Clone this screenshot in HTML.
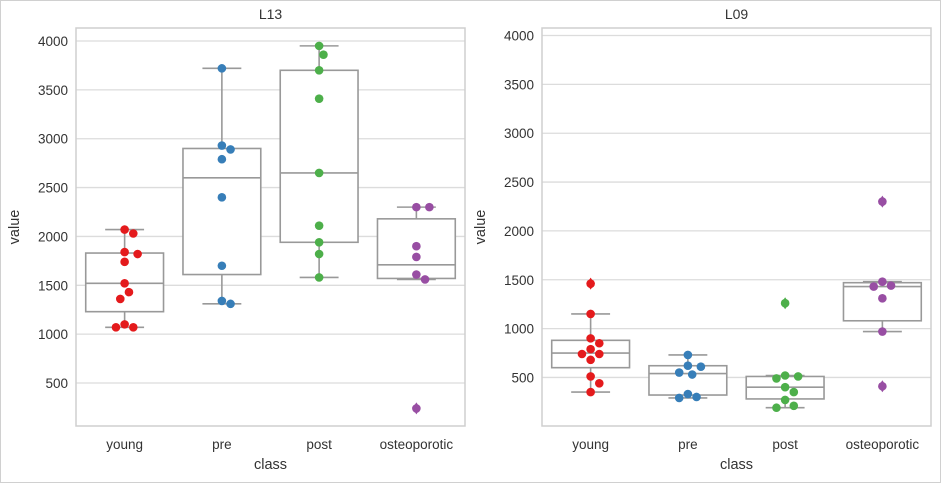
<!DOCTYPE html>
<html><head><meta charset="utf-8"><style>
html,body{margin:0;padding:0;background:#fff}
svg{display:block;font-family:"Liberation Sans",Arial,sans-serif}
</style></head><body>
<svg id="fig" width="941" height="483" viewBox="0 0 941 483">
<rect x="0.5" y="0.5" width="940" height="482" fill="#fff" stroke="#d0d0d0"/>
</svg>
<script>
const categories = ["young","pre","post","osteoporotic"];
const yTicks = [500,1000,1500,2000,2500,3000,3500,4000];
const colors = ["#e41a1c","#377eb8","#4daf4a","#984ea3"];
// L13
const l13Points = [
 [2070,2030,1840,1820,1740,1520,1430,1360,1100,1070,1070],
 [3720,2930,2890,2790,2400,1700,1340,1310],
 [3950,3860,3700,3410,2650,2110,1940,1820,1580],
 [2300,2300,1900,1790,1610,1560,240]
];
const l13Box = [ // [whiskerLow,q1,median,q3,whiskerHigh]
 [1070,1230,1520,1830,2070],
 [1310,1610,2600,2900,3720],
 [1580,1940,2650,3700,3950],
 [1560,1570,1710,2180,2300]
];
const l13Outliers = [[],[],[],[240]];
// L09
const l09Points = [
 [1460,1150,900,850,790,740,740,680,510,440,350],
 [730,620,610,550,530,330,300,290],
 [1260,520,510,490,400,350,270,210,190],
 [2300,1480,1440,1430,1310,970,410]
];
const l09Box = [
 [350,600,750,880,1150],
 [290,320,540,620,730],
 [190,280,400,510,520],
 [970,1080,1430,1470,1480]
];
const l09Outliers = [[1460],[],[1260],[2300,410]];

const NS="http://www.w3.org/2000/svg";
const fig=document.getElementById('fig');
function mk(tag,attrs,parent){const e=document.createElementNS(NS,tag);for(const k in attrs)e.setAttribute(k,attrs[k]);(parent||fig).appendChild(e);return e;}

function panel(title,x0,x1,yTop,yBot,vTop,vBot,pts,box,outl,key){
  const g=mk('g',{});
  
  
  const yS=v=>yTop+(vTop-v)*(yBot-yTop)/(vTop-vBot);
  const step=(x1-x0)/categories.length;
  const xS=i=>x0+step*(i+0.5);
  // grid
  yTicks.forEach(t=>{
    const y=yS(t);
    const gl=mk('line',{x1:x0,x2:x1,y1:y,y2:y,stroke:'#dcdcdc','stroke-width':1.3},g);
    
    
    const tl=mk('text',{x:x0-8,y:y+5,'text-anchor':'end','font-size':13.5,fill:'#333'},g);
    tl.textContent=t;
    
    
  });
  const fr=mk('rect',{x:x0,y:yTop,width:x1-x0,height:yBot-yTop,fill:'none',stroke:'#cfcfcf','stroke-width':1.5},g);
  
  
  const bw=step*0.8;
  categories.forEach((c,i)=>{
    const cx=xS(i),b=box[i],st='#999';
    const bg=mk('g',{},g);
    
    
    mk('line',{x1:cx,x2:cx,y1:yS(b[0]),y2:yS(b[1]),stroke:st,'stroke-width':1.6},bg);
    mk('line',{x1:cx,x2:cx,y1:yS(b[3]),y2:yS(b[4]),stroke:st,'stroke-width':1.6},bg);
    mk('line',{x1:cx-bw/4,x2:cx+bw/4,y1:yS(b[0]),y2:yS(b[0]),stroke:st,'stroke-width':1.6},bg);
    mk('line',{x1:cx-bw/4,x2:cx+bw/4,y1:yS(b[4]),y2:yS(b[4]),stroke:st,'stroke-width':1.6},bg);
    mk('rect',{x:cx-bw/2,y:yS(b[3]),width:bw,height:yS(b[1])-yS(b[3]),fill:'#fff',stroke:st,'stroke-width':1.6},bg);
    mk('line',{x1:cx-bw/2,x2:cx+bw/2,y1:yS(b[2]),y2:yS(b[2]),stroke:st,'stroke-width':1.6},bg);
    outl[i].forEach(v=>{
      const y=yS(v);
      const d=mk('polygon',{points:`${cx},${y-6} ${cx+4},${y} ${cx},${y+6} ${cx-4},${y}`,fill:colors[i]},g);
      
      
    });
    // swarm
    const placed=[];const r=4.3,dmin=2*r+0.5;
    pts[i].forEach(v=>{
      const y=yS(v);let ox=0;
      const cands=[0];for(let k=1;k<12;k++){cands.push(k*dmin/2.1,-k*dmin/2.1);}
      for(const o of cands){if(placed.every(p=>Math.hypot(p[0]-o,p[1]-y)>=dmin)){ox=o;break;}}
      placed.push([ox,y]);
      const ci=mk('circle',{cx:cx+ox,cy:y,r:r,fill:colors[i]},g);
      
      
    });
    const xl=mk('text',{x:cx,y:yBot+23,'text-anchor':'middle','font-size':13.5,fill:'#333'},g);
    xl.textContent=c;
    
    
  });
  const tt=mk('text',{x:(x0+x1)/2,y:19,'text-anchor':'middle','font-size':14,fill:'#333'},g);
  tt.textContent=title;
  
  
  const xt=mk('text',{x:(x0+x1)/2,y:469,'text-anchor':'middle','font-size':14.5,fill:'#333'},g);
  xt.textContent='class';
  
  
  const yx=x0-57,yy=(yTop+yBot)/2;
  const yt=mk('text',{x:yx,y:yy,'text-anchor':'middle','font-size':14.5,fill:'#333',transform:`rotate(-90 ${yx} ${yy})`},g);
  yt.textContent='value';
  
  
}
panel('L13',76,465,28,426,4133,60,l13Points,l13Box,l13Outliers,'l13');
panel('L09',542,931,28,426,4077,3,l09Points,l09Box,l09Outliers,'l09');
</script>
</body></html>
